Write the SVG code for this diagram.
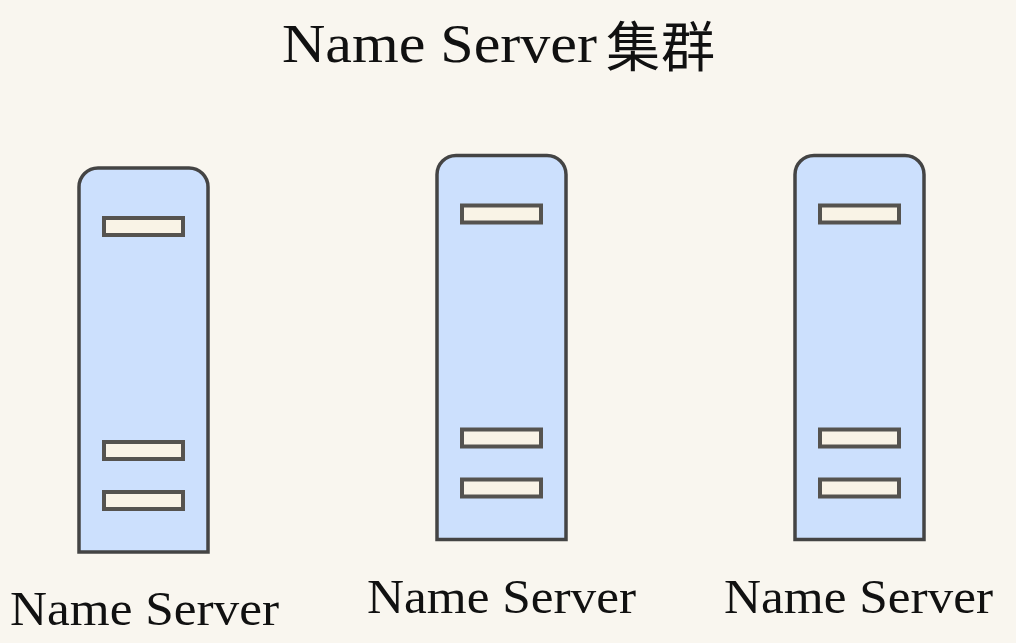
<svg xmlns="http://www.w3.org/2000/svg" width="1016" height="643" viewBox="0 0 1016 643">
<style>
.bg{fill:#f9f6ef}
.body{fill:#cce0fd;stroke:#444;stroke-width:3.5}
.slot{fill:#f9f3e6;stroke:#55534f;stroke-width:4}
text{font-family:"Liberation Serif","Noto Sans CJK SC",serif;fill:#111}
.t{font-size:55px}
.c{font-size:54px;letter-spacing:1px}
.l{font-size:48px}
</style>
<defs>
<g id="srv">
<path class="body" d="M79 552V187A19 19 0 0 1 98 168H189A19 19 0 0 1 208 187V552Z"/>
<rect class="slot" x="104" y="218" width="79" height="17"/>
<rect class="slot" x="104" y="442" width="79" height="17"/>
<rect class="slot" x="104" y="492" width="79" height="17"/>
</g>
</defs>
<rect class="bg" width="1016" height="643"/>
<g id="title"><text class="t" x="282" y="62" textLength="315" lengthAdjust="spacingAndGlyphs">Name Server</text><text class="c" x="606" y="67">集群</text></g>
<g id="server1"><use href="#srv"/><text class="l" x="10" y="625" textLength="269" lengthAdjust="spacingAndGlyphs">Name Server</text></g>
<g id="server2"><use href="#srv" x="358" y="-12.5"/><text class="l" x="367" y="613" textLength="269" lengthAdjust="spacingAndGlyphs">Name Server</text></g>
<g id="server3"><use href="#srv" x="716" y="-12.5"/><text class="l" x="724" y="613" textLength="269" lengthAdjust="spacingAndGlyphs">Name Server</text></g>
<g id="connectors"/>
</svg>
